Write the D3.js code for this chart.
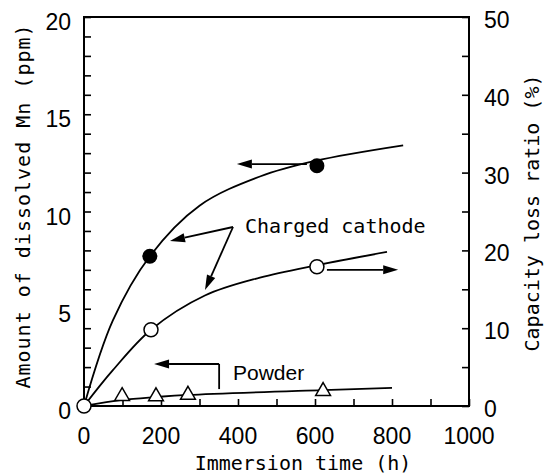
<!DOCTYPE html>
<html><head><meta charset="utf-8">
<script src="https://cdn.jsdelivr.net/npm/d3@7"></script>
<style>body{margin:0;background:#fff}</style>
</head><body>
<svg id="c" width="546" height="476"></svg>
<script>
// ---- data ----
const xTicks = [0, 200, 400, 600, 800, 1000];
const leftTicks = [0, 5, 10, 15, 20];
const rightTicks = [0, 10, 20, 30, 40, 50];
// Dissolved Mn, charged cathode (left axis, ppm)
const mnPoints = [[171, 7.7], [605, 12.35]];
const mnCurve = [[0,0],[75,4.4],[171,7.7],[300,10.3],[457,11.8],[600,12.6],[829,13.4]];
// Capacity loss ratio (right axis, %)
const capPoints = [[0, 0], [174, 9.8], [605, 17.9]];
const capCurve = [[0,0],[75,4.6],[174,9.8],[314,14.2],[457,16.5],[605,18.1],[787,19.8]];
// Dissolved Mn, powder (left axis, ppm)
const powderPoints = [[99,0.58],[187,0.57],[270,0.65],[621,0.84]];
const powderCurve = [[0,0],[99,0.31],[187,0.46],[270,0.57],[621,0.82],[800,0.93]];

const svg = d3.select("#c");
const L = 84, R = 469, T = 17, B = 406;
const x = d3.scaleLinear().domain([0,1000]).range([L,R]);
const yL = d3.scaleLinear().domain([0,20]).range([B,T]);
const yR = d3.scaleLinear().domain([0,50]).range([B,T]);

const tickFont = "'Liberation Sans Narrow','Arial Narrow','Liberation Sans',sans-serif";
const monoFont = "'DejaVu Sans Mono',monospace";

// axes with inward ticks
function styleAxis(g){ g.select(".domain").remove(); g.selectAll("line").attr("stroke","#000").attr("stroke-width",1.6); }
svg.append("g").attr("transform",`translate(0,${B})`)
  .call(d3.axisTop(x).tickValues(d3.range(0,1001,100)).tickSize(7).tickFormat(""))
  .call(styleAxis);
svg.append("g").attr("transform",`translate(${L},0)`)
  .call(d3.axisRight(yL).tickValues(d3.range(0,21,1)).tickSize(7).tickFormat(""))
  .call(styleAxis);
svg.append("g").attr("transform",`translate(${R},0)`)
  .call(d3.axisLeft(yR).tickValues(d3.range(0,51,5)).tickSize(7).tickFormat(""))
  .call(styleAxis);

// frame
svg.append("rect").attr("x",L).attr("y",T).attr("width",R-L).attr("height",B-T)
  .attr("fill","none").attr("stroke","#000").attr("stroke-width",2);

// tick labels
svg.append("g").selectAll("text").data(xTicks).join("text")
  .attr("x",d=>x(d)).attr("y",444).attr("text-anchor","middle")
  .attr("font-family",tickFont).attr("font-size",23).text(d=>d);
svg.append("g").selectAll("text").data(leftTicks).join("text")
  .attr("x",71).attr("y",d=>yL(d)+13).attr("text-anchor","end")
  .attr("font-family",tickFont).attr("font-size",23).text(d=>d);
svg.append("g").selectAll("text").data(rightTicks).join("text")
  .attr("x",484).attr("y",d=>yR(d)+11).attr("text-anchor","start")
  .attr("font-family",tickFont).attr("font-size",23).text(d=>d);

// axis titles
svg.append("text").attr("x",303).attr("y",470).attr("text-anchor","middle")
  .attr("font-family",monoFont).attr("font-size",20).text("Immersion time (h)");
svg.append("text").attr("transform","translate(30,206) rotate(-90)").attr("text-anchor","middle")
  .attr("font-family",monoFont).attr("font-size",20).attr("letter-spacing",1).text("Amount of dissolved Mn (ppm)");
svg.append("text").attr("transform","translate(539,213) rotate(-90)").attr("text-anchor","middle")
  .attr("font-family",monoFont).attr("font-size",20).text("Capacity loss ratio (%)");

// curves
const lineL = d3.line().x(d=>x(d[0])).y(d=>yL(d[1])).curve(d3.curveCatmullRom.alpha(0.5));
const lineR = d3.line().x(d=>x(d[0])).y(d=>yR(d[1])).curve(d3.curveCatmullRom.alpha(0.5));
svg.append("path").attr("d",lineL(mnCurve)).attr("fill","none").attr("stroke","#000").attr("stroke-width",1.8);
svg.append("path").attr("d",lineR(capCurve)).attr("fill","none").attr("stroke","#000").attr("stroke-width",1.8);
svg.append("path").attr("d",lineL(powderCurve)).attr("fill","none").attr("stroke","#000").attr("stroke-width",1.8);

// arrows
function arrow(x1,y1,x2,y2){
  const a = Math.atan2(y2-y1,x2-x1), len=15, hw=4.5;
  const bx = x2-len*Math.cos(a), by = y2-len*Math.sin(a);
  svg.append("line").attr("x1",x1).attr("y1",y1).attr("x2",bx).attr("y2",by)
    .attr("stroke","#000").attr("stroke-width",1.8);
  const p = [[x2,y2],[bx+hw*Math.sin(a),by-hw*Math.cos(a)],[bx-hw*Math.sin(a),by+hw*Math.cos(a)]];
  svg.append("path").attr("d","M"+p.join("L")+"Z").attr("fill","#000");
}
arrow(x(579), yL(12.44), x(397), yL(12.44));
arrow(x(631), yR(17.5), x(816), yR(17.5));
arrow(233,227,170,241);
arrow(233,227,205,290);
svg.append("line").attr("x1",x(351)).attr("y1",yL(0.87)).attr("x2",x(351)).attr("y2",yL(2.16))
  .attr("stroke","#000").attr("stroke-width",1.8);
arrow(x(351), yL(2.16), x(182), yL(2.16));

// annotation texts
svg.append("text").attr("x",245).attr("y",233).attr("font-family",monoFont).attr("font-size",20)
  .text("Charged cathode");
svg.append("text").attr("x",233).attr("y",380).attr("font-family","'Liberation Sans',Arial,sans-serif").attr("font-size",21)
  .text("Powder");

// markers
const tri = d3.symbol().type(d3.symbolTriangle).size(95);
svg.append("g").selectAll("path").data(powderPoints).join("path")
  .attr("d",tri).attr("transform",d=>`translate(${x(d[0])},${yL(d[1])+1.5})`)
  .attr("fill","#fff").attr("stroke","#000").attr("stroke-width",1.5);
svg.append("g").selectAll("circle").data(mnPoints).join("circle")
  .attr("cx",d=>x(d[0])).attr("cy",d=>yL(d[1])).attr("r",7.5).attr("fill","#000");
svg.append("g").selectAll("circle").data(capPoints).join("circle")
  .attr("cx",d=>x(d[0])).attr("cy",d=>yR(d[1])).attr("r",7).attr("fill","#fff")
  .attr("stroke","#000").attr("stroke-width",1.5);
</script>
</body></html>
